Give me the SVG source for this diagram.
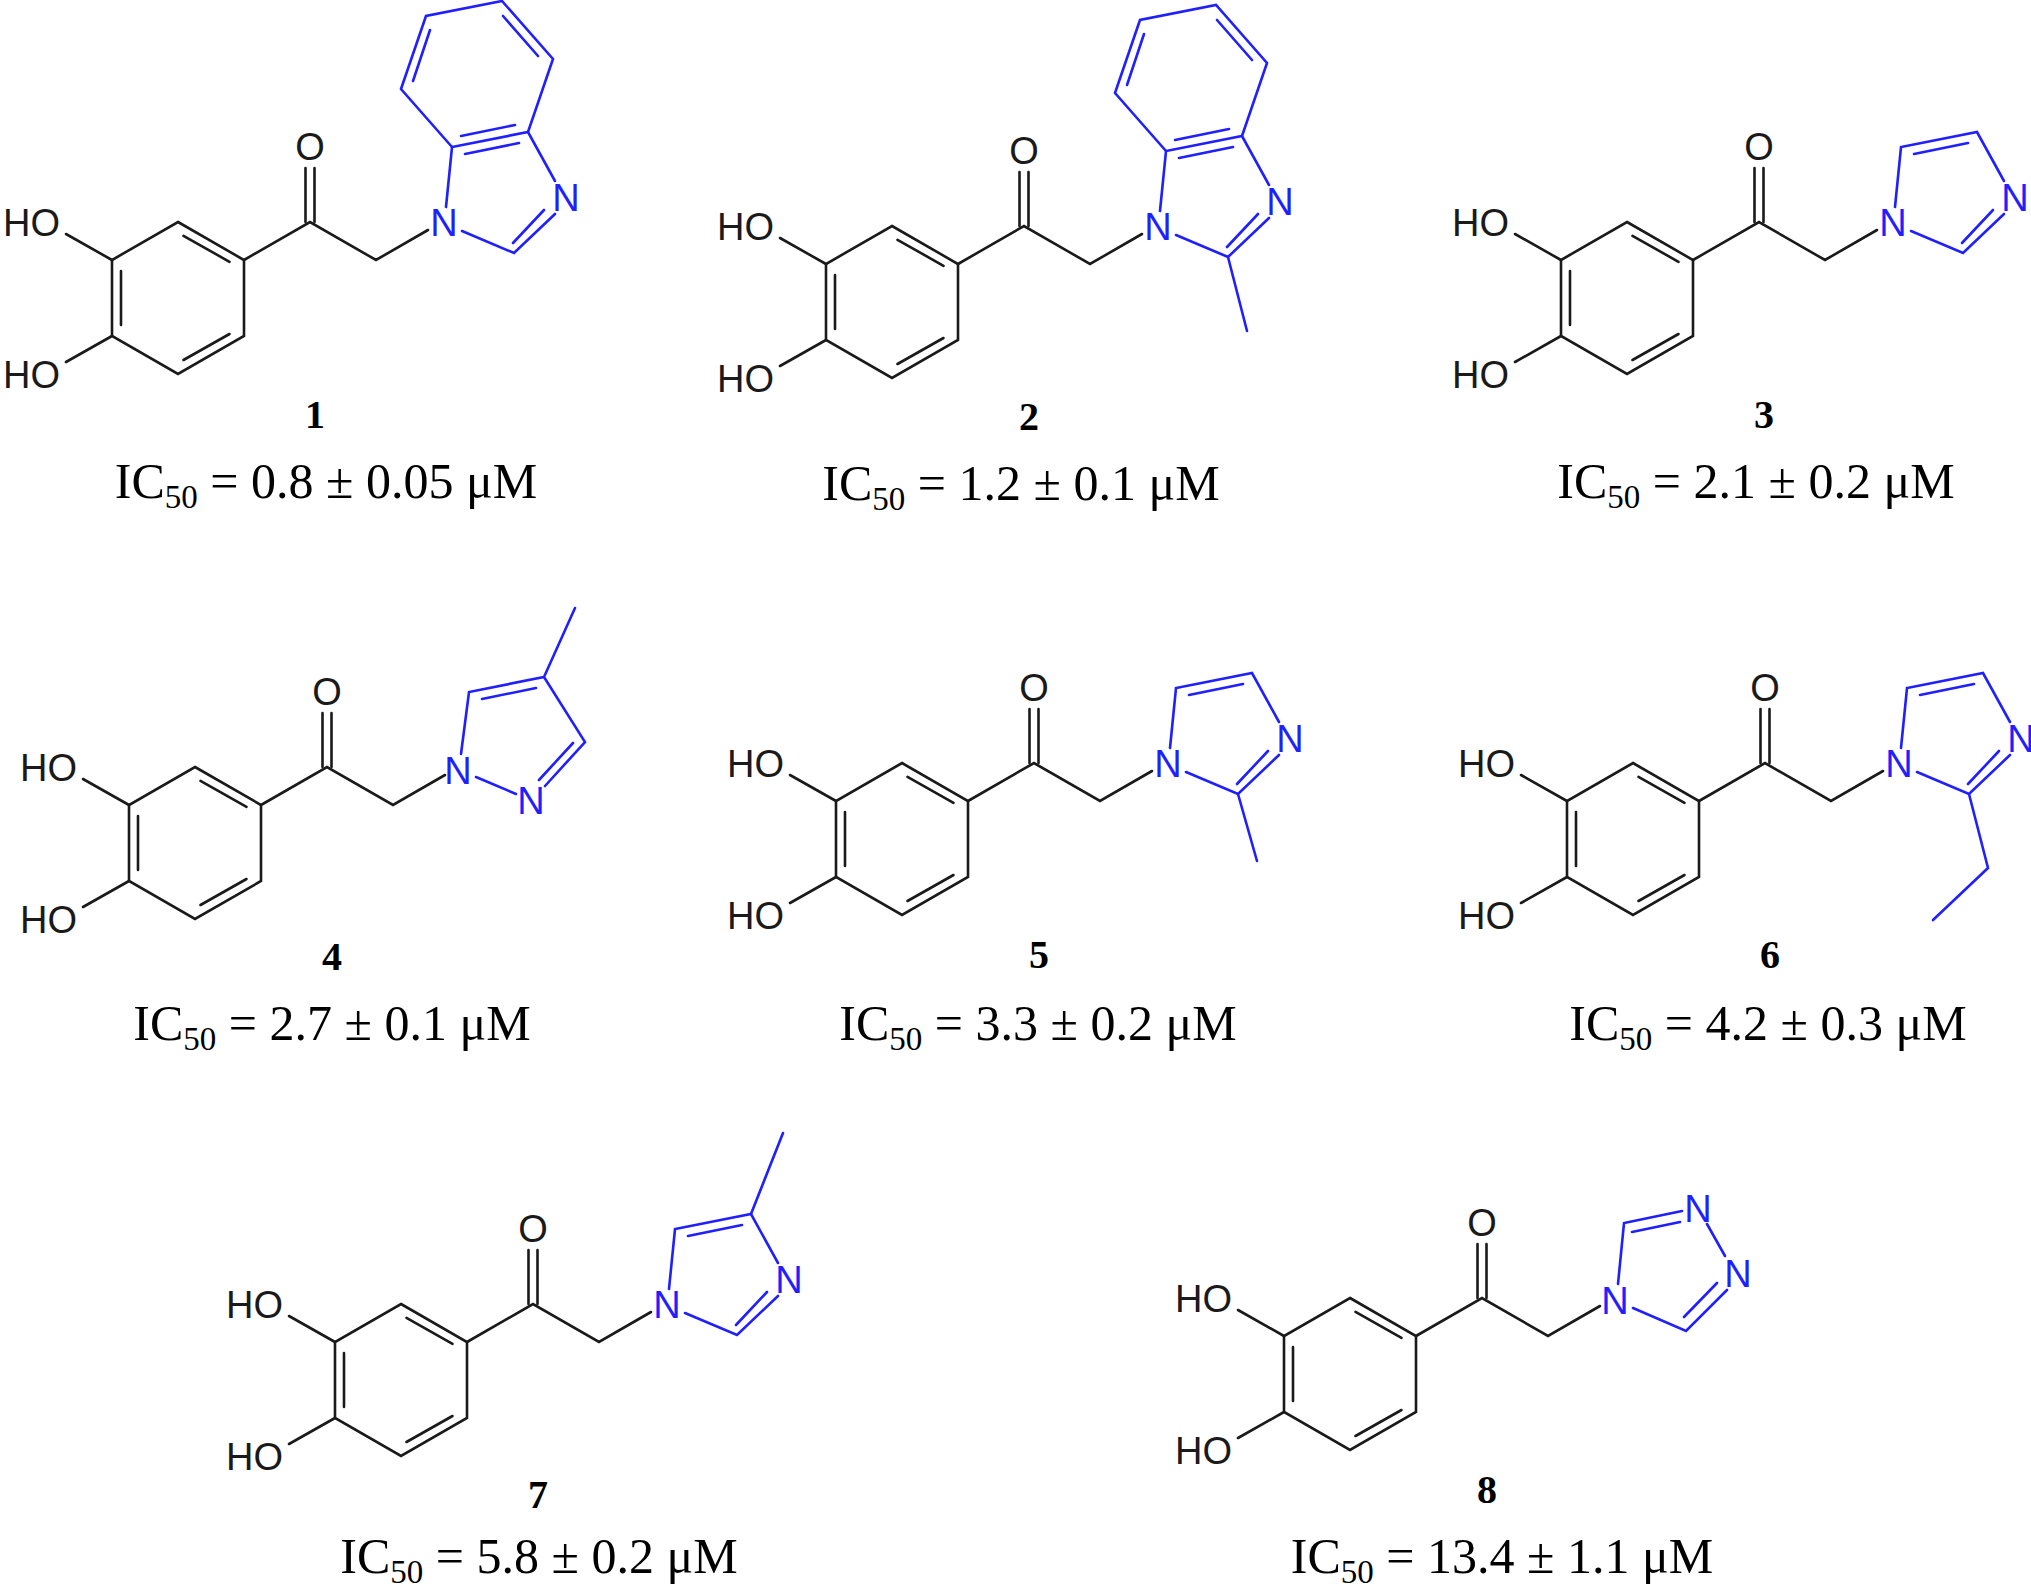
<svg xmlns="http://www.w3.org/2000/svg" xmlns:xlink="http://www.w3.org/1999/xlink" width="2031" height="1586" viewBox="0 0 2031 1586">
<style>
.k{stroke:#1a1a1a;stroke-width:2.6;fill:none;stroke-linecap:round}
.b{stroke:#1f1fff;stroke-width:2.6;fill:none;stroke-linecap:round}
.at{font-family:"Liberation Sans",Arial,sans-serif;font-size:38px;fill:#1a1a1a}
.nt{font-family:"Liberation Sans",Arial,sans-serif;font-size:38px;fill:#1f1fff;text-anchor:middle}
.num{font-family:"Liberation Serif","Times New Roman",serif;font-size:40px;font-weight:bold;fill:#000;text-anchor:middle}
.ic{font-family:"Liberation Serif","Times New Roman",serif;font-size:50px;fill:#000;text-anchor:middle}
.sub{font-size:33px}
</style>
<defs>
<g id="core">
<path class="k" d="M178,222 L244,260 L244,336 L178,374 L112,336 L112,260 Z"/>
<path class="k" d="M183.5,235.8 L229.5,261.8 M229.5,334 L183.5,360 M121,325 L121,271"/>
<path class="k" d="M112,260 L66,234 M112,336 L66,362"/>
<path class="k" d="M244,260 L310,222 L376,260 L428,230"/>
<path class="k" d="M305.5,222 L305.5,168 M314.5,222 L314.5,168"/>
<text class="at" x="60" y="236" text-anchor="end">HO</text>
<text class="at" x="60" y="388" text-anchor="end">HO</text>
<text class="at" x="310" y="160" text-anchor="middle">O</text>
</g>
<g id="imid">
<path class="b" d="M446,207 L452,147 L528,132 L555,181 M465,154 L519,143 M555,214 L514,253 L462,231 M544,210 L513,243"/>
<text class="nt" x="444" y="236">N</text>
<text class="nt" x="566" y="211">N</text>
</g>
<g id="benzo">
<path class="b" d="M452,147 L401,89 L426,16 L502,1 L553,59 L528,132 M461,136 L515,125 M413,81 L430,30 M503,16 L538,56"/>
</g>
</defs>
<g id="mol1">
<use xlink:href="#core"/><use xlink:href="#imid"/><use xlink:href="#benzo"/>
<text class="num" x="315" y="428">1</text>
<text class="ic" x="326" y="498">IC<tspan class="sub" dy="10">50</tspan><tspan dy="-10"> = 0.8 ± 0.05 μM</tspan></text>
</g>
<g id="mol2">
<g transform="translate(714,4)"><use xlink:href="#core"/><use xlink:href="#imid"/><use xlink:href="#benzo"/><path class="b" d="M514,253 L533,327"/></g>
<text class="num" x="1029" y="430">2</text>
<text class="ic" x="1021" y="500">IC<tspan class="sub" dy="10">50</tspan><tspan dy="-10"> = 1.2 ± 0.1 μM</tspan></text>
</g>
<g id="mol3">
<g transform="translate(1449,0)"><use xlink:href="#core"/><use xlink:href="#imid"/></g>
<text class="num" x="1764" y="428">3</text>
<text class="ic" x="1756" y="498">IC<tspan class="sub" dy="10">50</tspan><tspan dy="-10"> = 2.1 ± 0.2 μM</tspan></text>
</g>
<g id="mol4">
<g transform="translate(17,545)"><use xlink:href="#core"/>
<path class="b" d="M444,209 L452,147 L527,132 L568,197 L528,241 M465,154 L519,143 M556,198 L522,235 M527,132 L558,63 M459,232 L499,249"/>
<text class="nt" x="441" y="239">N</text>
<text class="nt" x="514" y="269">N</text></g>
<text class="num" x="332" y="970">4</text>
<text class="ic" x="332" y="1040">IC<tspan class="sub" dy="10">50</tspan><tspan dy="-10"> = 2.7 ± 0.1 μM</tspan></text>
</g>
<g id="mol5">
<g transform="translate(724,541)"><use xlink:href="#core"/><use xlink:href="#imid"/><path class="b" d="M514,253 L533,320"/></g>
<text class="num" x="1039" y="968">5</text>
<text class="ic" x="1038" y="1040">IC<tspan class="sub" dy="10">50</tspan><tspan dy="-10"> = 3.3 ± 0.2 μM</tspan></text>
</g>
<g id="mol6">
<g transform="translate(1455,541)"><use xlink:href="#core"/><use xlink:href="#imid"/><path class="b" d="M514,253 L533,327 L478,379"/></g>
<text class="num" x="1770" y="968">6</text>
<text class="ic" x="1768" y="1040">IC<tspan class="sub" dy="10">50</tspan><tspan dy="-10"> = 4.2 ± 0.3 μM</tspan></text>
</g>
<g id="mol7">
<g transform="translate(223,1082)"><use xlink:href="#core"/><use xlink:href="#imid"/><path class="b" d="M528,132 L560,51"/></g>
<text class="num" x="538" y="1508">7</text>
<text class="ic" x="539" y="1573">IC<tspan class="sub" dy="10">50</tspan><tspan dy="-10"> = 5.8 ± 0.2 μM</tspan></text>
</g>
<g id="mol8">
<g transform="translate(1172,1076)"><use xlink:href="#core"/>
<path class="b" d="M446,208 L452,147 L510,135 M460,156 L508,146 M535,148 L553,180 M555,214 L514,255 L461,232 M545,207 L512,241"/>
<text class="nt" x="443" y="238">N</text>
<text class="nt" x="526" y="146">N</text>
<text class="nt" x="566" y="211">N</text></g>
<text class="num" x="1487" y="1503">8</text>
<text class="ic" x="1502" y="1573">IC<tspan class="sub" dy="10">50</tspan><tspan dy="-10"> = 13.4 ± 1.1 μM</tspan></text>
</g>
</svg>
